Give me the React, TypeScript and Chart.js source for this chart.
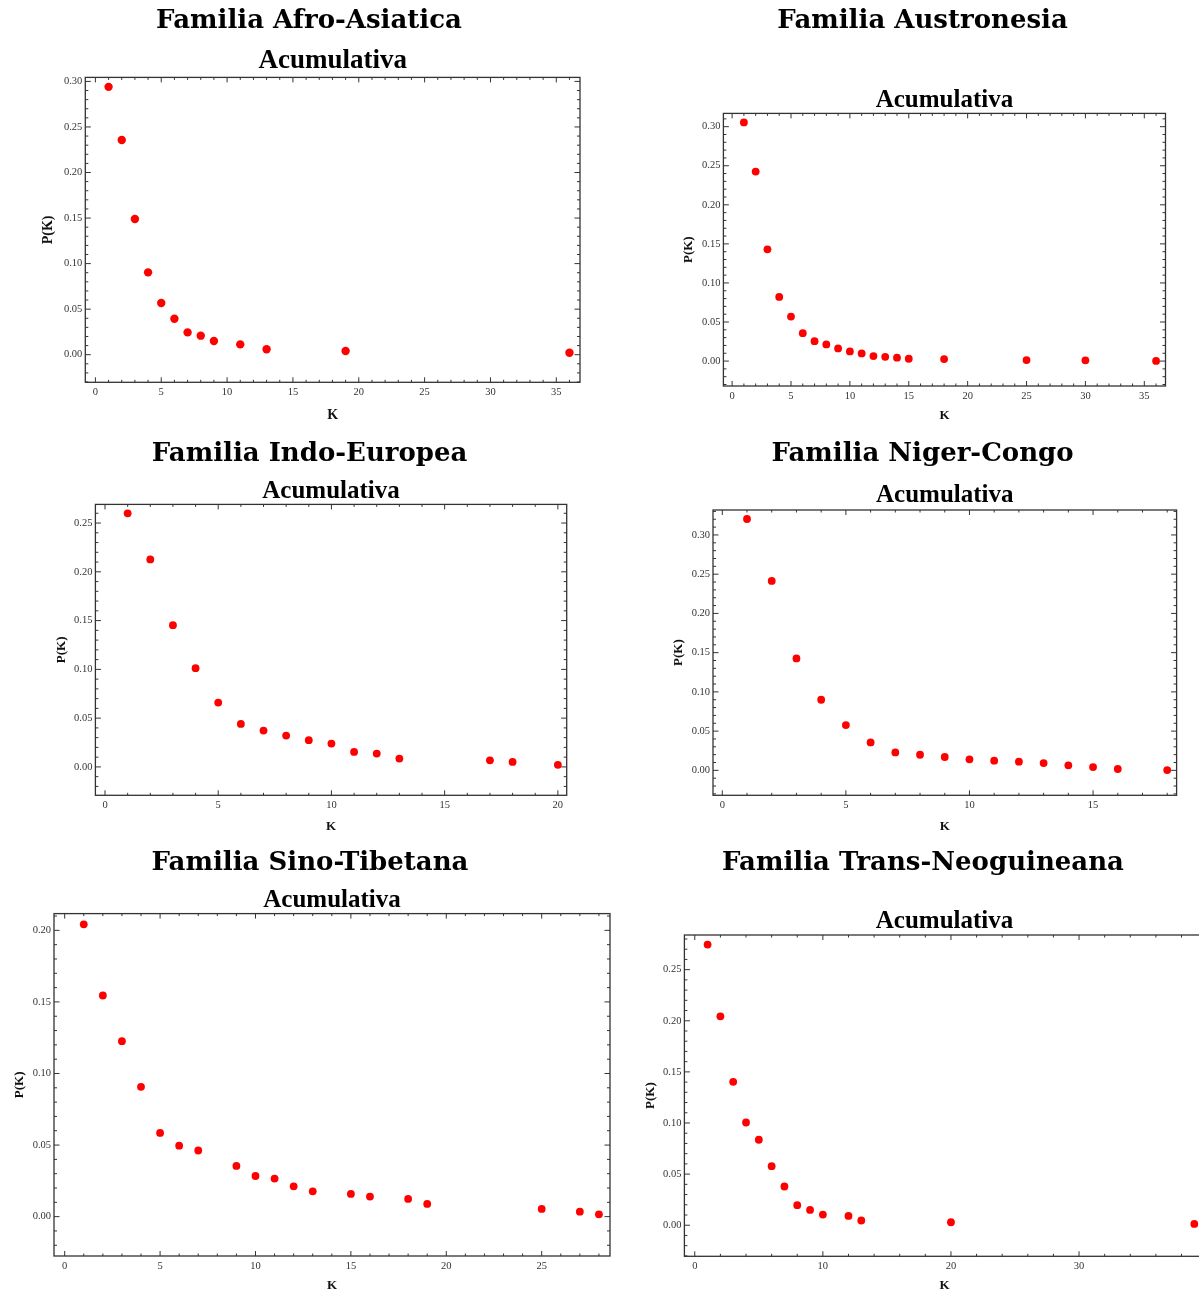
import React, { useEffect, useRef } from 'react';
import { Chart, registerables } from 'chart.js';

Chart.register(...registerables);

// ---------- DATA ----------
const titles = [
  'Familia Afro-Asiatica',
  'Familia Austronesia',
  'Familia Indo-Europea',
  'Familia Niger-Congo',
  'Familia Sino-Tibetana',
  'Familia Trans-Neoguineana',
];
const subtitleText = 'Acumulativa';
const xAxisLabel = 'K';
const yAxisLabel = 'P(K)';

const afroK = [1, 2, 3, 4, 5, 6, 7, 8, 9, 11, 13, 19, 36];
const afroP = [0.294, 0.2356, 0.149, 0.0904, 0.0567, 0.0395, 0.0245, 0.0209, 0.015, 0.0113, 0.0059, 0.004, 0.0022];

const austroK = [1, 2, 3, 4, 5, 6, 7, 8, 9, 10, 11, 12, 13, 14, 15, 18, 25, 30, 36];
const austroP = [0.3055, 0.2426, 0.143, 0.0821, 0.057, 0.0357, 0.0255, 0.0213, 0.0162, 0.0123, 0.0098, 0.0064, 0.0055, 0.0043, 0.003, 0.0026, 0.0013, 0.0009, 0.0002];

const indoK = [1, 2, 3, 4, 5, 6, 7, 8, 9, 10, 11, 12, 13, 17, 18, 20];
const indoP = [0.2599, 0.2127, 0.1453, 0.1012, 0.066, 0.0441, 0.0373, 0.0321, 0.0274, 0.0239, 0.0154, 0.0137, 0.0085, 0.0068, 0.0051, 0.0021];

const nigerK = [1, 2, 3, 4, 5, 6, 7, 8, 9, 10, 11, 12, 13, 14, 15, 16, 18];
const nigerP = [0.3203, 0.2414, 0.1426, 0.09, 0.0577, 0.0356, 0.0229, 0.0199, 0.017, 0.014, 0.0123, 0.011, 0.0093, 0.0064, 0.0042, 0.0017, 0.0004];

const sinoK = [1, 2, 3, 4, 5, 6, 7, 9, 10, 11, 12, 13, 15, 16, 18, 19, 25, 27, 28];
const sinoP = [0.2042, 0.1545, 0.1226, 0.0907, 0.0585, 0.0496, 0.0462, 0.0354, 0.0284, 0.0266, 0.0212, 0.0177, 0.0159, 0.014, 0.0124, 0.0089, 0.0054, 0.0035, 0.0016];

const transK = [1, 2, 3, 4, 5, 6, 7, 8, 9, 10, 12, 13, 20, 39];
const transP = [0.2745, 0.2043, 0.1403, 0.1005, 0.0836, 0.0578, 0.0379, 0.0196, 0.015, 0.0104, 0.0091, 0.0046, 0.0029, 0.0013];

const xTicks35 = [0, 5, 10, 15, 20, 25, 30, 35];
const xTicks20 = [0, 5, 10, 15, 20];
const xTicks15 = [0, 5, 10, 15];
const xTicks25 = [0, 5, 10, 15, 20, 25];
const xTicks30 = [0, 10, 20, 30];
const yTicks30 = [0, 0.05, 0.1, 0.15, 0.2, 0.25, 0.3];
const yTicks25 = [0, 0.05, 0.1, 0.15, 0.2, 0.25];
const yTicks20 = [0, 0.05, 0.1, 0.15, 0.2];

// ---------- LAYOUT / STYLE ----------
const rowTops = [0, 430, 840];
const colLefts = [0, 600];

type PanelCfg = {
  title: string;
  k: number[];
  p: number[];
  xTicks: number[];
  yTicks: number[];
  xMinor: number;
  yMinor: number;
  xr: [number, number];
  yr: [number, number];
  frame: [number, number, number, number];
  col: number;
  row: number;
  titleC: [number, number];
  subY: number;
  titleSize: number;
  subSize: number;
  axisSize: number;
  yOff: number;
  xOff: number;
  r: number;
};

const panels: PanelCfg[] = [
  { title: titles[0], k: afroK, p: afroP, xTicks: xTicks35, yTicks: yTicks30, xMinor: 1, yMinor: 0.01,
    xr: [-0.767, 36.8], yr: [-0.0303, 0.3044], frame: [85.3, 77.4, 580, 382.3], col: 0, row: 0,
    titleC: [309, 18.3], subY: 59.3, titleSize: 26, subSize: 27, axisSize: 14, yOff: 37.4, xOff: 32.7, r: 4.2 },
  { title: titles[1], k: austroK, p: austroP, xTicks: xTicks35, yTicks: yTicks30, xMinor: 1, yMinor: 0.01,
    xr: [-0.74, 36.8], yr: [-0.0319, 0.317], frame: [723.4, 113.4, 1165.5, 386], col: 1, row: 0,
    titleC: [922.6, 18.3], subY: 98.3, titleSize: 26, subSize: 25, axisSize: 13, yOff: 34.7, xOff: 29.5, r: 3.9 },
  { title: titles[2], k: indoK, p: indoP, xTicks: xTicks20, yTicks: yTicks25, xMinor: 1, yMinor: 0.01,
    xr: [-0.424, 20.39], yr: [-0.0291, 0.2691], frame: [95.4, 504.4, 566.7, 795.3], col: 0, row: 1,
    titleC: [309.6, 451.7], subY: 489.3, titleSize: 26, subSize: 25, axisSize: 13, yOff: 33.5, xOff: 31.4, r: 3.9 },
  { title: titles[3], k: nigerK, p: nigerP, xTicks: xTicks15, yTicks: yTicks30, xMinor: 1, yMinor: 0.01,
    xr: [-0.376, 18.38], yr: [-0.0318, 0.3318], frame: [713, 510, 1176.6, 795.3], col: 1, row: 1,
    titleC: [922.5, 451.7], subY: 493.3, titleSize: 26, subSize: 25, axisSize: 13, yOff: 34.5, xOff: 31.4, r: 3.9 },
  { title: titles[4], k: sinoK, p: sinoP, xTicks: xTicks25, yTicks: yTicks20, xMinor: 1, yMinor: 0.01,
    xr: [-0.56, 28.58], yr: [-0.0275, 0.2117], frame: [54, 913.6, 610, 1256], col: 0, row: 2,
    titleC: [310, 860], subY: 898.3, titleSize: 26, subSize: 25, axisSize: 13, yOff: 34.2, xOff: 30, r: 3.9 },
  { title: titles[5], k: transK, p: transP, xTicks: xTicks30, yTicks: yTicks25, xMinor: 2, yMinor: 0.01,
    xr: [-0.81, 39.81], yr: [-0.0304, 0.2839], frame: [684.4, 935, 1204.7, 1256.3], col: 1, row: 2,
    titleC: [923, 860], subY: 920, titleSize: 26, subSize: 25, axisSize: 13, yOff: 34.2, xOff: 29.7, r: 3.9 },
];

const frameColor = '#333333';
const titleNudge = 3; // visual cap-centre vs canvas 'middle' baseline
const subNudge = 2;

const frameTicks = {
  id: 'frameTicks',
  beforeDatasetsDraw(chart: any, _args: any, opts: any) {
    const { ctx, chartArea: a, scales } = chart;
    const xs = scales.x;
    const ys = scales.y;
    ctx.save();
    ctx.strokeStyle = frameColor;
    ctx.lineWidth = 1;
    const line = (x1: number, y1: number, x2: number, y2: number) => {
      ctx.beginPath();
      ctx.moveTo(x1, y1);
      ctx.lineTo(x2, y2);
      ctx.stroke();
    };
    const isMajor = (v: number, majors: number[]) => majors.some((m) => Math.abs(m - v) < 1e-9);
    const steps = (min: number, max: number, step: number) => {
      const out: number[] = [];
      const start = Math.ceil(min / step - 1e-9);
      for (let i = start; i * step <= max + 1e-12; i++) out.push(Math.round(i * step * 1e6) / 1e6);
      return out;
    };
    for (const v of steps(xs.min, xs.max, opts.xMinor)) {
      const px = xs.getPixelForValue(v);
      const len = isMajor(v, opts.xMajor) ? 5 : 2.5;
      line(px, a.bottom, px, a.bottom - len);
      line(px, a.top, px, a.top + len);
    }
    for (const v of steps(ys.min, ys.max, opts.yMinor)) {
      const py = ys.getPixelForValue(v);
      const len = isMajor(v, opts.yMajor) ? 5.5 : 3;
      line(a.left, py, a.left + len, py);
      line(a.right, py, a.right - len, py);
    }
    ctx.lineWidth = 1.3;
    ctx.strokeRect(a.left, a.top, a.right - a.left, a.bottom - a.top);
    ctx.restore();
  },
};

function Panel({ cfg }: { cfg: PanelCfg }) {
  const ref = useRef<HTMLCanvasElement | null>(null);
  const [L, T, R, B] = cfg.frame;
  const cx0 = colLefts[cfg.col];
  const top0 = rowTops[cfg.row];
  const W = Math.ceil(R + 5 - cx0);
  const padR = cx0 + W - R;
  const padL = 2 * (cfg.titleC[0] - cx0) - W + padR;
  const AW = L - cx0 - padL;
  const H = Math.ceil(B - top0 + 45);
  const AH = top0 + H - B;

  useEffect(() => {
    if (!ref.current) return;
    const tc = cfg.titleC[1] - top0 + titleNudge;
    const sc = cfg.subY - top0 + subNudge;
    const Tr = T - top0;
    const tPadTop = tc - cfg.titleSize / 2;
    const titleBottom = tc + cfg.titleSize / 2;
    const sPadTop = Math.max(0, sc - cfg.subSize / 2 - titleBottom);
    const sPadBottom = Math.max(0, Tr - (titleBottom + sPadTop + cfg.subSize));
    const points = cfg.k.map((k, i) => ({ x: k, y: cfg.p[i] }));
    const tickFont = { family: 'Liberation Serif', size: 10.5 };
    const axisTitleFont = { family: 'Liberation Serif', size: cfg.axisSize, weight: 'bold' as const, lineHeight: 1 };

    const chart = new Chart(ref.current, {
      type: 'scatter',
      data: {
        datasets: [
          {
            data: points,
            pointRadius: cfg.r,
            pointHoverRadius: cfg.r,
            pointBackgroundColor: '#ff0000',
            pointBorderWidth: 0,
            showLine: false,
          },
        ],
      },
      options: {
        animation: false,
        responsive: false,
        devicePixelRatio: 1,
        layout: { padding: { left: padL, right: padR, top: 0, bottom: 0 } },
        plugins: {
          legend: { display: false },
          tooltip: { enabled: false },
          title: {
            display: true,
            text: cfg.title,
            color: '#000',
            font: { family: 'DejaVu Serif', size: cfg.titleSize, weight: 'bold', lineHeight: 1 },
            padding: { top: tPadTop, bottom: 0 },
          },
          subtitle: {
            display: true,
            text: subtitleText,
            fullSize: false,
            color: '#000',
            font: { family: 'Liberation Serif', size: cfg.subSize, weight: 'bold', lineHeight: 1 },
            padding: { top: sPadTop, bottom: sPadBottom },
          },
          frameTicks: {
            xMinor: cfg.xMinor,
            yMinor: cfg.yMinor,
            xMajor: cfg.xTicks,
            yMajor: cfg.yTicks,
          },
        } as any,
        scales: {
          x: {
            type: 'linear',
            position: 'bottom',
            min: cfg.xr[0],
            max: cfg.xr[1],
            afterBuildTicks: (s: any) => {
              s.ticks = cfg.xTicks.map((v) => ({ value: v }));
            },
            afterFit: (s: any) => {
              s.height = AH;
            },
            grid: { display: false, drawTicks: false },
            border: { display: false },
            ticks: {
              autoSkip: false,
              maxRotation: 0,
              padding: 4,
              color: '#333',
              font: tickFont,
              callback: (v: any) => String(v),
            },
            title: {
              display: true,
              text: xAxisLabel,
              color: '#111',
              font: axisTitleFont,
              padding: { top: 0, bottom: AH - cfg.xOff - cfg.axisSize / 2 },
            },
          },
          y: {
            type: 'linear',
            position: 'left',
            min: cfg.yr[0],
            max: cfg.yr[1],
            afterBuildTicks: (s: any) => {
              s.ticks = cfg.yTicks.map((v) => ({ value: v }));
            },
            afterFit: (s: any) => {
              s.width = AW;
            },
            grid: { display: false, drawTicks: false },
            border: { display: false },
            ticks: {
              autoSkip: false,
              padding: 3,
              color: '#333',
              font: tickFont,
              callback: (v: any) => Number(v).toFixed(2),
            },
            title: {
              display: true,
              text: yAxisLabel,
              color: '#111',
              font: axisTitleFont,
              padding: { top: AW - cfg.yOff - cfg.axisSize / 2, bottom: 0 },
            },
          },
        },
      },
      plugins: [frameTicks as any],
    });
    return () => chart.destroy();
  }, []);

  return (
    <canvas
      ref={ref}
      width={W}
      height={H}
      style={{ position: 'absolute', left: cx0, top: top0, width: W, height: H }}
    />
  );
}

export default function App() {
  return (
    <div
      style={{
        position: 'fixed',
        left: 0,
        top: 0,
        width: 1199,
        height: 1296,
        overflow: 'hidden',
        background: '#ffffff',
      }}
    >
      {panels.map((cfg, i) => (
        <Panel key={i} cfg={cfg} />
      ))}
    </div>
  );
}
